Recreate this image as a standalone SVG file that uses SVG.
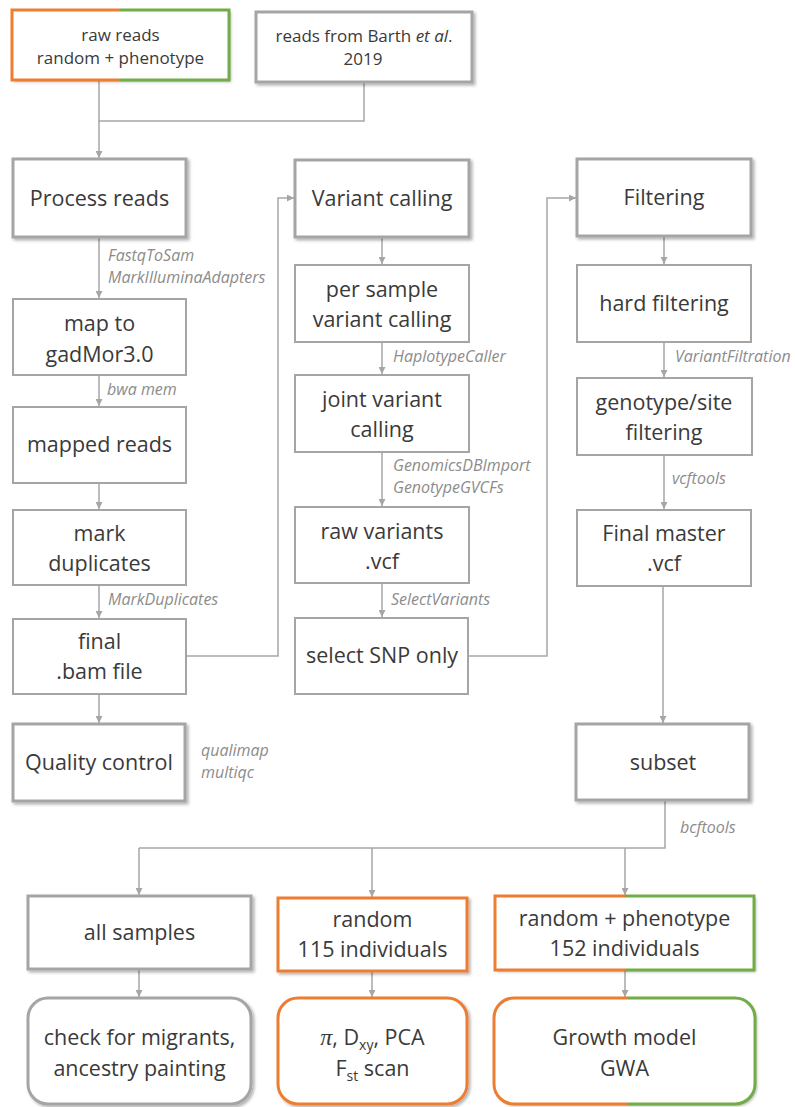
<svg xmlns="http://www.w3.org/2000/svg" width="795" height="1107" viewBox="0 0 795 1107">
<style>
.bx{fill:#fff;stroke:#a5a5a5;stroke-width:2}
.hb{fill:#fff;stroke:#a5a5a5;stroke-width:3;filter:url(#sh)}
.t{font-family:'Open Sans','Liberation Sans',sans-serif;font-size:21.5px;fill:#3a3a3a;text-anchor:middle}
.ts{font-family:'Open Sans','Liberation Sans',sans-serif;font-size:17px;fill:#3a3a3a;text-anchor:middle}
.lb{font-family:'Open Sans','Liberation Sans',sans-serif;font-size:16px;font-style:italic;fill:#8c8c8c}
.ln{fill:none;stroke:#a6a6a6;stroke-width:1.5}
.ar{marker-end:url(#ah)}
.or{fill:none;stroke:#ED7D31;stroke-width:3}
.gr{fill:none;stroke:#70AD47;stroke-width:3}
</style>
<defs>
<filter id="sh" x="-10%" y="-10%" width="125%" height="130%">
<feDropShadow dx="2" dy="2" stdDeviation="1.5" flood-color="#000" flood-opacity="0.3"/>
</filter>
<marker id="ah" viewBox="0 0 10 10" refX="10" refY="5" markerWidth="7" markerHeight="7" markerUnits="userSpaceOnUse" orient="auto">
<path d="M0,0 L10,5 L0,10 z" fill="#a6a6a6"/>
</marker>
</defs>
<rect width="795" height="1107" fill="#fff"/>

<g id="connectors">
<polyline class="ln" points="99,80 99,121 364,121 364,82"/>
<line class="ln ar" x1="99" y1="121" x2="99" y2="158"/>
<line class="ln ar" x1="99" y1="238" x2="99" y2="298"/>
<line class="ln ar" x1="99" y1="375" x2="99" y2="406"/>
<line class="ln ar" x1="99" y1="483" x2="99" y2="509"/>
<line class="ln ar" x1="99" y1="585" x2="99" y2="618"/>
<line class="ln ar" x1="99" y1="694" x2="99" y2="723"/>
<polyline class="ln ar" points="186,656 278,656 278,198 294,198"/>
<line class="ln ar" x1="382" y1="238" x2="382" y2="264"/>
<line class="ln ar" x1="382" y1="342" x2="382" y2="374"/>
<line class="ln ar" x1="382" y1="452" x2="382" y2="506"/>
<line class="ln ar" x1="382" y1="583" x2="382" y2="617"/>
<polyline class="ln ar" points="468,656 547,656 547,198 576,198"/>
<line class="ln ar" x1="664" y1="237" x2="664" y2="264"/>
<line class="ln ar" x1="664" y1="342" x2="664" y2="377"/>
<line class="ln ar" x1="664" y1="455" x2="664" y2="509"/>
<line class="ln ar" x1="663" y1="586" x2="663" y2="723"/>
<polyline class="ln" points="665,801 665,848 139,848"/>
<line class="ln ar" x1="139" y1="848" x2="139" y2="895"/>
<line class="ln ar" x1="372" y1="848" x2="372" y2="897"/>
<line class="ln ar" x1="625" y1="848" x2="625" y2="895"/>
<line class="ln ar" x1="139" y1="970" x2="139" y2="997"/>
<line class="ln ar" x1="372" y1="972" x2="372" y2="997"/>
<line class="ln ar" x1="625" y1="971" x2="625" y2="997"/>
<text class="lb" x="108" y="261">FastqToSam</text>
<text class="lb" x="108" y="283">MarkIlluminaAdapters</text>
<text class="lb" x="107" y="395">bwa mem</text>
<text class="lb" x="108" y="605">MarkDuplicates</text>
<text class="lb" x="201" y="756">qualimap</text>
<text class="lb" x="201" y="778">multiqc</text>
<text class="lb" x="393" y="362">HaplotypeCaller</text>
<text class="lb" x="393" y="471">GenomicsDBImport</text>
<text class="lb" x="393" y="493">GenotypeGVCFs</text>
<text class="lb" x="391" y="605">SelectVariants</text>
<text class="lb" x="675" y="362">VariantFiltration</text>
<text class="lb" x="672" y="484">vcftools</text>
<text class="lb" x="680" y="833">bcftools</text>
</g>

<g id="raw-reads">
<rect x="12" y="10" width="217" height="70" fill="#fff" filter="url(#sh)"/>
<path class="or" d="M120,10 H12 V80 H120"/>
<path class="gr" d="M120,10 H229 V80 H120"/>
<text class="ts" x="120.5" y="41">raw reads</text>
<text class="ts" x="120.5" y="64">random + phenotype</text>
</g>
<g id="barth">
<rect class="hb" x="256" y="12" width="216" height="70"/>
<text class="ts" x="364" y="42">reads from Barth <tspan font-style="italic">et al</tspan>.</text>
<text class="ts" x="363" y="65">2019</text>
</g>

<g id="process-reads"><rect class="hb" x="13" y="159" width="173" height="78"/><text class="t" x="99.5" y="206">Process reads</text></g>
<g id="map"><rect class="bx" x="13" y="299" width="173" height="76"/><text class="t" x="99.5" y="331">map to</text><text class="t" x="99.5" y="362">gadMor3.0</text></g>
<g id="mapped-reads"><rect class="bx" x="13" y="407" width="173" height="76"/><text class="t" x="99.5" y="452">mapped reads</text></g>
<g id="mark-duplicates"><rect class="bx" x="13" y="510" width="173" height="75"/><text class="t" x="99.5" y="541">mark</text><text class="t" x="99.5" y="571">duplicates</text></g>
<g id="final-bam"><rect class="bx" x="13" y="619" width="173" height="75"/><text class="t" x="99.5" y="649">final</text><text class="t" x="99.5" y="679">.bam file</text></g>
<g id="quality-control"><rect class="hb" x="13" y="724" width="172" height="77"/><text class="t" x="99" y="770">Quality control</text></g>

<g id="variant-calling"><rect class="hb" x="295" y="160" width="174" height="77"/><text class="t" x="382" y="206">Variant calling</text></g>
<g id="per-sample"><rect class="bx" x="295" y="265" width="174" height="77"/><text class="t" x="382" y="297">per sample</text><text class="t" x="382" y="327">variant calling</text></g>
<g id="joint"><rect class="bx" x="295" y="375" width="174" height="77"/><text class="t" x="382" y="407">joint variant</text><text class="t" x="382" y="437">calling</text></g>
<g id="raw-variants"><rect class="bx" x="295" y="507" width="174" height="76"/><text class="t" x="382" y="539">raw variants</text><text class="t" x="382" y="569">.vcf</text></g>
<g id="select-snp"><rect class="bx" x="295" y="618" width="173" height="76"/><text class="t" x="382" y="663">select SNP only</text></g>

<g id="filtering"><rect class="hb" x="577" y="159" width="174" height="77"/><text class="t" x="664" y="205">Filtering</text></g>
<g id="hard-filtering"><rect class="bx" x="577" y="265" width="174" height="77"/><text class="t" x="664" y="311">hard filtering</text></g>
<g id="genotype-filtering"><rect class="bx" x="577" y="378" width="175" height="77"/><text class="t" x="664" y="410">genotype/site</text><text class="t" x="664" y="440">filtering</text></g>
<g id="final-master"><rect class="bx" x="577" y="510" width="174" height="76"/><text class="t" x="664" y="541">Final master</text><text class="t" x="664" y="571">.vcf</text></g>
<g id="subset"><rect class="hb" x="576" y="724" width="173" height="76"/><text class="t" x="663" y="770">subset</text></g>

<g id="all-samples"><rect class="hb" x="28" y="896" width="223" height="73"/><text class="t" x="139.5" y="940">all samples</text></g>
<g id="random"><rect x="278" y="898" width="189" height="73" fill="#fff" stroke="#ED7D31" stroke-width="3" filter="url(#sh)"/><text class="t" x="372.5" y="927">random</text><text class="t" x="372.5" y="957">115 individuals</text></g>
<g id="random-phenotype">
<rect x="495" y="896" width="259" height="74" fill="#fff" filter="url(#sh)"/>
<path class="or" d="M625,896 H495 V970 H625"/>
<path class="gr" d="M625,896 H754 V970 H625"/>
<text class="t" x="624.5" y="926">random + phenotype</text><text class="t" x="624.5" y="956">152 individuals</text>
</g>

<g id="check-migrants"><rect class="hb" x="28" y="998" width="223" height="106" rx="20"/><text class="t" x="139.5" y="1045">check for migrants,</text><text class="t" x="139.5" y="1076">ancestry painting</text></g>
<g id="pi-dxy"><rect x="278" y="998" width="189" height="106" rx="20" fill="#fff" stroke="#ED7D31" stroke-width="3" filter="url(#sh)"/>
<text class="t" x="372.5" y="1045"><tspan font-family="'Liberation Serif',serif" font-style="italic" font-size="24">π</tspan>, D<tspan font-size="14" dy="5">xy</tspan><tspan dy="-5">, PCA</tspan></text>
<text class="t" x="372.5" y="1076">F<tspan font-size="14" dy="5">st</tspan><tspan dy="-5"> scan</tspan></text></g>
<g id="growth-model">
<rect x="494" y="998" width="261" height="106" rx="20" fill="#fff" filter="url(#sh)"/>
<path class="or" d="M627,998 H514 A20,20 0 0 0 494,1018 V1084 A20,20 0 0 0 514,1104 H627"/>
<path class="gr" d="M627,998 H735 A20,20 0 0 1 755,1018 V1084 A20,20 0 0 1 735,1104 H627"/>
<text class="t" x="624.5" y="1045">Growth model</text><text class="t" x="624.5" y="1076">GWA</text>
</g>
</svg>
